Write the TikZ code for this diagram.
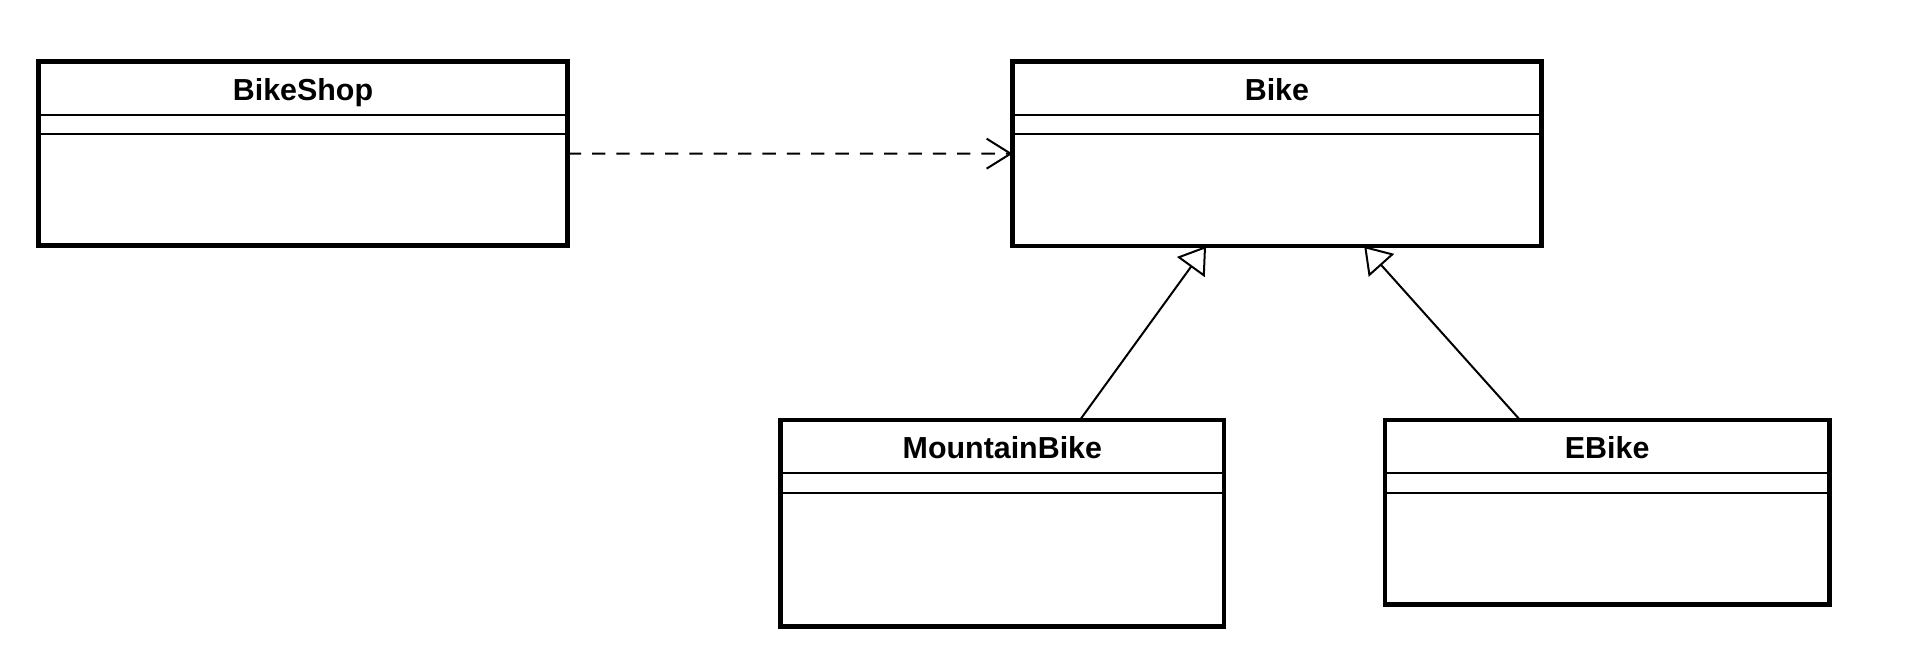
\documentclass[tikz,border=0pt]{standalone}
\usepackage{fontspec}
\setmainfont{Liberation Sans}
\usetikzlibrary{arrows.meta,calc}
\begin{document}
\begin{tikzpicture}[x=0.5pt,y=-0.5pt,
  classbox/.style={draw, line width=2.35pt, inner sep=0pt, outer sep=0pt, anchor=north west, fill=white},
  classtitle/.style={anchor=base, inner sep=0pt, font=\fontsize{15.2pt}{18pt}\selectfont\bfseries},
  sepline/.style={line width=1pt},
  deparrow/.style={line width=1pt, dash pattern=on 6.67pt off 5.5pt, -{Straight Barb[length=12pt,width=15pt,line width=1pt]}},
  genarrow/.style={line width=1pt, -{Triangle[open,length=13pt,width=17pt,line width=1pt,fill=white]}}
]
\fill[white] (0,0) rectangle (1928,666);
\useasboundingbox (0,0) rectangle (1928,666);

% classes
\node[classbox, minimum width=264.7pt, minimum height=92.2pt] (bs) at (38.3,61.3) {};
\node[classbox, minimum width=264.4pt, minimum height=92.35pt] (bk) at (1012.5,61.3) {};
\node[classbox, minimum width=221.65pt, minimum height=103.35pt] (mb) at (780.7,420) {};
\node[classbox, minimum width=222.15pt, minimum height=92.35pt] (eb) at (1385,420) {};

% titles
\node[classtitle] (bst) at ($(bs.north)+(0,-19.35pt)$) {BikeShop};
\node[classtitle] (bkt) at ($(bk.north)+(0,-19.35pt)$) {Bike};
\node[classtitle] (mbt) at ($(mb.north)+(0,-19.35pt)$) {MountainBike};
\node[classtitle] (ebt) at ($(eb.north)+(0,-19.35pt)$) {EBike};

% compartments
\foreach \c/\a/\b in {bs/27pt/36.5pt, bk/27pt/36.5pt, mb/26.7pt/36.7pt, eb/26.7pt/36.7pt}{
  \draw[sepline] ($(\c.north west)+(0,-\a)$) -- ($(\c.north east)+(0,-\a)$);
  \draw[sepline] ($(\c.north west)+(0,-\b)$) -- ($(\c.north east)+(0,-\b)$);
}

% dependency
\draw[deparrow] (bs.east) -- (bk.west);

% generalizations
\coordinate (mbtop) at ($(mb.north west)!0.675!(mb.north east)$);
\coordinate (ebtop) at ($(eb.north west)!0.304!(eb.north east)$);
\coordinate (bkl) at ($(bk.south west)!0.366!(bk.south east)$);
\coordinate (bkr) at ($(bk.south west)!0.665!(bk.south east)$);
\draw[genarrow] (mbtop) -- (bkl);
\draw[genarrow] (ebtop) -- (bkr);
\end{tikzpicture}
\end{document}
